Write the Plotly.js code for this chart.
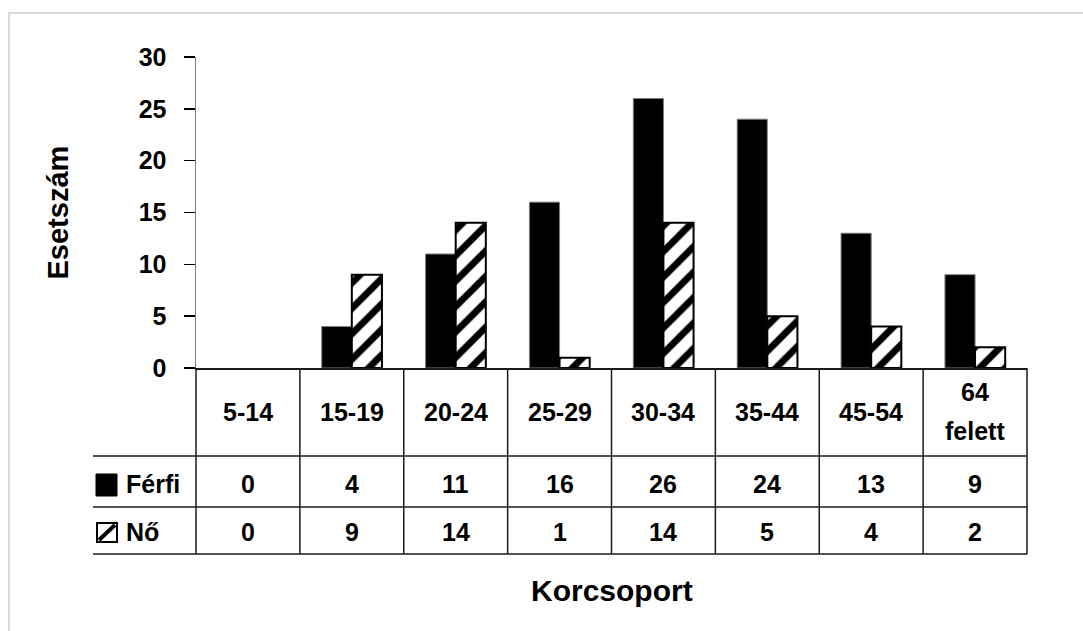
<!DOCTYPE html>
<html>
<head>
<meta charset="utf-8">
<script src="https://cdn.plot.ly/plotly-3.0.1.min.js"></script>
<style>html,body{margin:0;padding:0;background:#fff}#chart{width:1083px;height:631px}</style>
</head>
<body>
<div id="chart"></div>
<script>
// ---- data ----
const categories = ["5-14", "15-19", "20-24", "25-29", "30-34", "35-44", "45-54", "64<br>felett"];
const ferfi = [0, 4, 11, 16, 26, 24, 13, 9];
const no = [0, 9, 14, 1, 14, 5, 4, 2];
const seriesNames = ["Férfi", "Nő"];
const yTicks = [0, 5, 10, 15, 20, 25, 30];
const xTitle = "Korcsoport";
const yTitle = "Esetszám";

// ---- layout helpers (pixel -> paper) ----
const W = 1083, H = 631;
const M = {l: 196, r: 56, t: 57, b: 263};
const PW = W - M.l - M.r, PH = H - M.t - M.b;
const px = x => (x - M.l) / PW;
const py = y => (H - M.b - y) / PH;

const FONT = "Liberation Sans, Arial, Helvetica, sans-serif";
const f = (s) => ({family: FONT, size: s, color: "black", weight: "bold"});

const traces = [
  {
    type: "bar", name: seriesNames[0], x: categories, y: ferfi,
    marker: {color: "black", line: {color: "#7f7f7f", width: ferfi.map(v => v > 0 ? 1 : 0)}},
    hoverinfo: "skip"
  },
  {
    type: "bar", name: seriesNames[1], x: categories, y: no,
    marker: {color: "white", line: {color: "black", width: no.map(v => v > 0 ? 2 : 0)},
      pattern: {shape: "/", fgcolor: "black", bgcolor: "white", size: 18, solidity: 0.38, fillmode: "replace"}},
    hoverinfo: "skip"
  }
];

const LC = "#1a1a1a", LW = 1.5;
const shapes = [];
// outer frame
shapes.push({type: "rect", xref: "paper", yref: "paper", x0: px(9), x1: px(1100), y0: py(650), y1: py(13),
  line: {color: "#d9d9d9", width: 2}, fillcolor: "rgba(0,0,0,0)", layer: "below"});
// table horizontal lines
[456, 507, 554].forEach(yy => shapes.push({type: "line", xref: "paper", yref: "paper",
  x0: px(93), x1: 1, y0: py(yy), y1: py(yy), line: {color: LC, width: LW}}));
// table vertical edges
[0, 1].forEach(xx => shapes.push({type: "line", xref: "paper", yref: "paper",
  x0: xx, x1: xx, y0: 0, y1: py(554), line: {color: LC, width: LW}}));
// interior category boundaries
for (let i = 0; i < categories.length - 1; i++) {
  shapes.push({type: "line", xref: "x", yref: "paper", x0: i + 0.5, x1: i + 0.5, y0: 0, y1: py(554),
    line: {color: LC, width: LW}});
}
// legend keys
shapes.push({type: "rect", xref: "paper", yref: "paper", x0: px(96), x1: px(117), y0: py(496), y1: py(474),
  fillcolor: "black", line: {color: "black", width: 1}});
shapes.push({type: "rect", xref: "paper", yref: "paper", x0: px(97), x1: px(117), y0: py(542), y1: py(523),
  fillcolor: "white", line: {color: "black", width: 2}});
shapes.push({type: "line", xref: "paper", yref: "paper", x0: px(99), x1: px(115), y0: py(540), y1: py(525),
  line: {color: "black", width: 4}});

const annotations = [];
// header row
categories.forEach(c => {
  const lines = c.split("<br>");
  const spacing = 39, centre = 411.5;
  lines.forEach((t, k) => {
    const yy = centre + (k - (lines.length - 1) / 2) * spacing;
    annotations.push({xref: "x", yref: "paper", x: c, y: py(yy), text: t, showarrow: false,
      xanchor: "center", yanchor: "middle", font: f(25)});
  });
});
// value rows
const rows = [[ferfi, 484], [no, 532]];
rows.forEach(([vals, yy]) => {
  categories.forEach((c, i) => annotations.push({xref: "x", yref: "paper", x: c, y: py(yy),
    text: String(vals[i]), showarrow: false, xanchor: "center", yanchor: "middle", font: f(25)}));
});
// row labels
seriesNames.forEach((n, k) => annotations.push({xref: "paper", yref: "paper", x: px(124), y: py(rows[k][1]),
  text: n, showarrow: false, xanchor: "left", yanchor: "middle", font: f(25)}));
// axis titles
annotations.push({xref: "paper", yref: "paper", x: 0.5, y: py(590), text: xTitle, showarrow: false,
  xanchor: "center", yanchor: "middle", font: f(30)});
annotations.push({xref: "paper", yref: "paper", x: px(57), y: 0.5, text: yTitle, showarrow: false,
  textangle: -90, xanchor: "center", yanchor: "middle", font: f(29)});

const layout = {
  width: W, height: H,
  margin: M,
  paper_bgcolor: "white", plot_bgcolor: "white",
  showlegend: false,
  barmode: "group", bargap: 0.42, bargroupgap: 0,
  font: {family: FONT, color: "black"},
  xaxis: {type: "category", range: [-0.5, categories.length - 0.5], showticklabels: false, ticks: "",
    showgrid: false, zeroline: false, showline: true, linecolor: LC, linewidth: LW, fixedrange: true},
  yaxis: {range: [0, 30], tickvals: yTicks, ticktext: yTicks.map(String), ticks: "outside", ticklen: 11,
    tickwidth: 1.5, tickcolor: "black", showgrid: false, zeroline: false, showline: true,
    linecolor: "#808080", linewidth: 1.5, tickfont: f(25), ticklabelstandoff: 12, fixedrange: true},
  shapes: shapes,
  annotations: annotations
};

Plotly.newPlot("chart", traces, layout, {staticPlot: true, displayModeBar: false});
</script>
</body>
</html>
